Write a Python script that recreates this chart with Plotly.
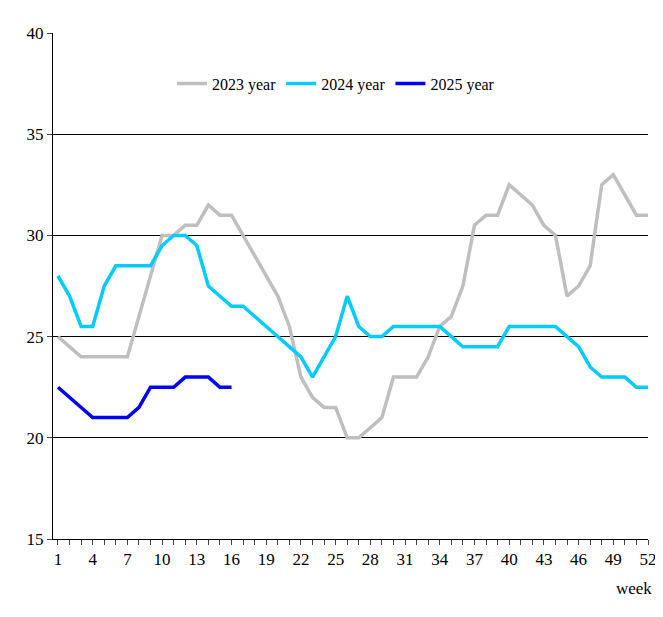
import plotly.graph_objects as go

weeks = list(range(1, 53))
y2023 = [25,24.5,24,24,24,24,24,26,28,30,30,30.5,30.5,31.5,31,31,30,29,28,27,25.5,23,22,21.5,21.5,20,20,20.5,21,23,23,23,24,25.5,26,27.5,30.5,31,31,32.5,32,31.5,30.5,30,27,27.5,28.5,32.5,33,32,31,31]
y2024 = [28,27,25.5,25.5,27.5,28.5,28.5,28.5,28.5,29.5,30,30,29.5,27.5,27,26.5,26.5,26,25.5,25,24.5,24,23,24,25,27,25.5,25,25,25.5,25.5,25.5,25.5,25.5,25,24.5,24.5,24.5,24.5,25.5,25.5,25.5,25.5,25.5,25,24.5,23.5,23,23,23,22.5,22.5]
weeks2025 = list(range(1, 17))
y2025 = [22.5,22,21.5,21,21,21,21,21.5,22.5,22.5,22.5,23,23,23,22.5,22.5]
tickvals = list(range(1, 53, 3))

fig = go.Figure()
fig.add_trace(go.Scatter(x=weeks, y=y2023, mode="lines", name="2023 year", line=dict(color="#BFBFBF", width=3.5)))
fig.add_trace(go.Scatter(x=weeks, y=y2024, mode="lines", name="2024 year", line=dict(color="#00CCFF", width=3.5)))
fig.add_trace(go.Scatter(x=weeks2025, y=y2025, mode="lines", name="2025 year", line=dict(color="#0000FF", width=3.5)))

fig.update_layout(
    width=663, height=617, margin=dict(l=45, r=23, t=25, b=86, autoexpand=False),
    paper_bgcolor="white", plot_bgcolor="white",
    font=dict(family="Liberation Serif", size=17, color="black"),
    legend=dict(orientation="h", x=0.2, y=0.9, xanchor="left", yanchor="middle",
                bgcolor="rgba(0,0,0,0)", font=dict(size=16)),
    annotations=[dict(text="week", x=1.01, y=-0.075, xref="paper", yref="paper",
                      xanchor="right", yanchor="top", showarrow=False, font=dict(size=17))],
)
fig.update_xaxes(range=[0.57, 52], tickvals=tickvals, showgrid=False, showline=True,
                 linecolor="black", linewidth=1, ticks="outside", ticklen=5, automargin=False,
                 minor=dict(ticks="outside", dtick=1, ticklen=5, tick0=1), zeroline=False)
fig.update_yaxes(range=[15, 40], dtick=5, showgrid=True, gridcolor="black", gridwidth=1,
                 showline=True, linecolor="black", linewidth=1, ticks="outside", ticklen=5,
                 zeroline=False, automargin=False)
fig.write_html("out.html")
